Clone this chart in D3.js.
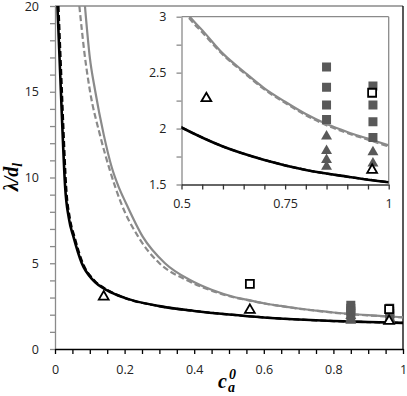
<!DOCTYPE html>
<html>
<head>
<meta charset="utf-8">
<script src="https://cdnjs.cloudflare.com/ajax/libs/d3/7.8.5/d3.min.js"></script>
<style>
  body { margin: 0; background: #fff; }
  .tick text { font-family: "Open Sans", sans-serif; font-size: 12.5px; fill: #222; }
  .ttl { font-family: "Liberation Serif", serif; font-weight: bold; font-style: italic; fill: #000; }
</style>
</head>
<body>
<div id="chart"></div>
<script>
// curves
const blackSolidX = [0.007, 0.012, 0.017, 0.022, 0.029, 0.04, 0.053, 0.077, 0.11, 0.15, 0.2, 0.3, 0.4, 0.5, 0.6, 0.7, 0.8, 0.9, 1.0];
const blackSolidY = [20, 17.5, 15.0, 12.5, 9.5, 7.6, 6.55, 5.0, 4.0, 3.42, 2.98, 2.5, 2.22, 2.01, 1.84, 1.72, 1.63, 1.57, 1.52];
const blackDashX = [0.010, 0.015, 0.020, 0.025, 0.032, 0.043, 0.056, 0.08, 0.113, 0.153, 0.2, 0.3, 0.4, 0.5, 0.6, 0.7, 0.8, 0.9, 1.0];
const blackDashY = [20, 17.5, 15.0, 12.5, 9.5, 7.6, 6.55, 5.0, 4.0, 3.42, 2.98, 2.5, 2.22, 2.01, 1.84, 1.72, 1.63, 1.57, 1.52];
const graySolidX = [0.086, 0.1, 0.115, 0.14, 0.163, 0.182, 0.204, 0.252, 0.316, 0.388, 0.45, 0.52, 0.55, 0.6, 0.65, 0.7, 0.75, 0.8, 0.85, 0.9, 0.95, 1.0];
const graySolidY = [20, 17.0, 15.1, 12.5, 10.6, 9.5, 8.5, 6.55, 5.0, 4.02, 3.45, 3.0, 2.88, 2.67, 2.51, 2.36, 2.24, 2.13, 2.04, 1.97, 1.91, 1.85];
const grayDashX = [0.070, 0.085, 0.10, 0.129, 0.158, 0.19, 0.239, 0.30, 0.378, 0.45, 0.52, 0.55, 0.6, 0.65, 0.7, 0.75, 0.8, 0.85, 0.9, 0.95, 1.0];
const grayDashY = [20, 17.2, 15.1, 12.5, 10.4, 8.5, 6.55, 5.0, 4.02, 3.4, 2.98, 2.86, 2.66, 2.5, 2.35, 2.23, 2.12, 2.03, 1.96, 1.9, 1.84];

// markers
const openTriX = [0.14, 0.56, 0.96];
const openTriY = [3.05, 2.27, 1.63];
const openSqX = [0.56, 0.96];
const openSqY = [3.8, 2.32];
const filledSqX = [0.85, 0.85, 0.85, 0.85, 0.962, 0.962, 0.962, 0.962];
const filledSqY = [2.55, 2.37, 2.21, 2.08, 2.38, 2.21, 2.06, 1.92];
const filledTriX = [0.85, 0.85, 0.85, 0.85, 0.962, 0.962];
const filledTriY = [1.93, 1.80, 1.72, 1.66, 1.79, 1.69];

// tick values
const mainXTicks = d3.range(0, 21).map(i => i / 20);
const mainXLabels = [0, 0.2, 0.4, 0.6, 0.8, 1];
const mainYTicks = d3.range(0, 21);
const mainYLabels = [0, 5, 10, 15, 20];
const insetXTicks = d3.range(10, 21).map(i => i / 20);
const insetXLabels = [0.5, 0.75, 1];
const insetYTicks = d3.range(6, 13).map(i => i / 4);
const insetYLabels = [1.5, 2, 2.5, 3];

const zip = (xs, ys) => xs.map((x, i) => [x, ys[i]]);
const hasLabel = (list, d) => list.some(v => Math.abs(v - d) < 1e-6);

const svg = d3.select("#chart").append("svg")
    .attr("width", 407)
    .attr("height", 396);

// scales
const x = d3.scaleLinear().domain([0, 1]).range([55, 403]);
const y = d3.scaleLinear().domain([0, 20]).range([349, 6]);
const xi = d3.scaleLinear().domain([0.5, 1]).range([181.5, 388.7]);
const yi = d3.scaleLinear().domain([1.5, 3]).range([184.5, 16.7]);

const defs = svg.append("defs");
defs.append("clipPath").attr("id", "clipMain").append("rect")
    .attr("x", 55).attr("y", 6).attr("width", 348).attr("height", 343);
defs.append("clipPath").attr("id", "clipInset").append("rect")
    .attr("x", 181.5).attr("y", 16.7).attr("width", 207.2).attr("height", 167.8);

function styleAxis(g, color) {
  g.select(".domain").attr("stroke", color).attr("stroke-width", 1.3);
  g.selectAll(".tick line").attr("stroke", color).attr("stroke-width", 1.3);
}

// main axes
svg.append("g")
    .attr("transform", "translate(55,0)")
    .call(d3.axisLeft(y).tickValues(mainYTicks).tickSize(5).tickSizeOuter(0).tickPadding(11)
      .tickFormat(d => hasLabel(mainYLabels, d) ? d : ""))
    .call(g => styleAxis(g, "#8a8a8a"));

svg.append("g")
    .attr("transform", "translate(0,349)")
    .call(d3.axisBottom(x).tickValues(mainXTicks).tickSize(5).tickSizeOuter(0).tickPadding(11)
      .tickFormat(d => hasLabel(mainXLabels, d) ? +d.toFixed(2) : ""))
    .call(g => styleAxis(g, "#000"));

// frame of the main plot
svg.append("line").attr("x1", 55).attr("x2", 403).attr("y1", 6).attr("y2", 6)
    .attr("stroke", "#8a8a8a").attr("stroke-width", 1.3);
svg.append("line").attr("x1", 403).attr("x2", 403).attr("y1", 6).attr("y2", 349)
    .attr("stroke", "#000").attr("stroke-width", 1.3);

function drawCurves(parent, sx, sy, clipId, w) {
  const line = d3.line().x(d => sx(d[0])).y(d => sy(d[1])).curve(d3.curveMonotoneX);
  const g = parent.append("g").attr("clip-path", "url(#" + clipId + ")");
  g.append("path").datum(zip(graySolidX, graySolidY)).attr("d", line)
      .attr("fill", "none").attr("stroke", "#8a8a8a").attr("stroke-width", w);
  g.append("path").datum(zip(grayDashX, grayDashY)).attr("d", line)
      .attr("fill", "none").attr("stroke", "#8a8a8a").attr("stroke-width", w)
      .attr("stroke-dasharray", "6,3");
  g.append("path").datum(zip(blackDashX, blackDashY)).attr("d", line)
      .attr("fill", "none").attr("stroke", "#000").attr("stroke-width", w)
      .attr("stroke-dasharray", "6,3");
  g.append("path").datum(zip(blackSolidX, blackSolidY)).attr("d", line)
      .attr("fill", "none").attr("stroke", "#000").attr("stroke-width", w + 0.4);
}

function drawMarkers(parent, sx, sy, clipId) {
  const g = parent.append("g");
  if (clipId) g.attr("clip-path", "url(#" + clipId + ")");
  const sq = d3.symbol().type(d3.symbolSquare);
  const tri = d3.symbol().type(d3.symbolTriangle);
  g.selectAll(".fsq").data(zip(filledSqX, filledSqY)).enter().append("path")
      .attr("d", sq.size(81)())
      .attr("transform", d => "translate(" + sx(d[0]) + "," + sy(d[1]) + ")")
      .attr("fill", "#595959");
  g.selectAll(".ftri").data(zip(filledTriX, filledTriY)).enter().append("path")
      .attr("d", tri.size(52)())
      .attr("transform", d => "translate(" + sx(d[0]) + "," + sy(d[1]) + ")")
      .attr("fill", "#595959");
  g.selectAll(".osq").data(zip(openSqX, openSqY)).enter().append("path")
      .attr("d", sq.size(64)())
      .attr("transform", d => "translate(" + sx(d[0]) + "," + sy(d[1]) + ")")
      .attr("fill", "#fff").attr("stroke", "#000").attr("stroke-width", 1.8);
  g.selectAll(".otri").data(zip(openTriX, openTriY)).enter().append("path")
      .attr("d", tri.size(42)())
      .attr("transform", d => "translate(" + sx(d[0]) + "," + sy(d[1]) + ")")
      .attr("fill", "#fff").attr("stroke", "#000").attr("stroke-width", 1.8);
}

drawCurves(svg, x, y, "clipMain", 2.2);
drawMarkers(svg, x, y, null);

// axis titles
svg.append("text").attr("class", "ttl").attr("x", 218).attr("y", 388)
    .attr("font-size", 20).text("c");
svg.append("text").attr("class", "ttl").attr("x", 228).attr("y", 392)
    .attr("font-size", 14).text("a");
svg.append("text").attr("class", "ttl").attr("x", 229).attr("y", 379)
    .attr("font-size", 14).attr("font-style", "normal").text("0");

const yTitle = svg.append("text").attr("class", "ttl")
    .attr("transform", "translate(18,177) rotate(-90)")
    .attr("text-anchor", "middle")
    .attr("font-size", 20);
yTitle.append("tspan").text("λ/d");
yTitle.append("tspan").attr("font-size", 14).attr("dy", 4).text("l");

// inset
const inset = svg.append("g");
inset.append("rect").attr("x", 135).attr("y", 8).attr("width", 266).attr("height", 210)
    .attr("fill", "#fff");

inset.append("g")
    .attr("transform", "translate(181.5,0)")
    .call(d3.axisLeft(yi).tickValues(insetYTicks).tickSize(5).tickSizeOuter(0).tickPadding(10)
      .tickFormat(d => hasLabel(insetYLabels, d) ? d : ""))
    .call(g => styleAxis(g, "#8a8a8a"));

inset.append("g")
    .attr("transform", "translate(0,184.5)")
    .call(d3.axisBottom(xi).tickValues(insetXTicks).tickSize(5).tickSizeOuter(0).tickPadding(10)
      .tickFormat(d => hasLabel(insetXLabels, d) ? +d.toFixed(2) : ""))
    .call(g => styleAxis(g, "#333"));

inset.append("line").attr("x1", 181.5).attr("x2", 388.7).attr("y1", 16.7).attr("y2", 16.7)
    .attr("stroke", "#8a8a8a").attr("stroke-width", 1.3);
inset.append("line").attr("x1", 388.7).attr("x2", 388.7).attr("y1", 16.7).attr("y2", 184.5)
    .attr("stroke", "#8a8a8a").attr("stroke-width", 1.3);

drawCurves(inset, xi, yi, "clipInset", 2.2);
drawMarkers(inset, xi, yi, "clipInset");
</script>
</body>
</html>
